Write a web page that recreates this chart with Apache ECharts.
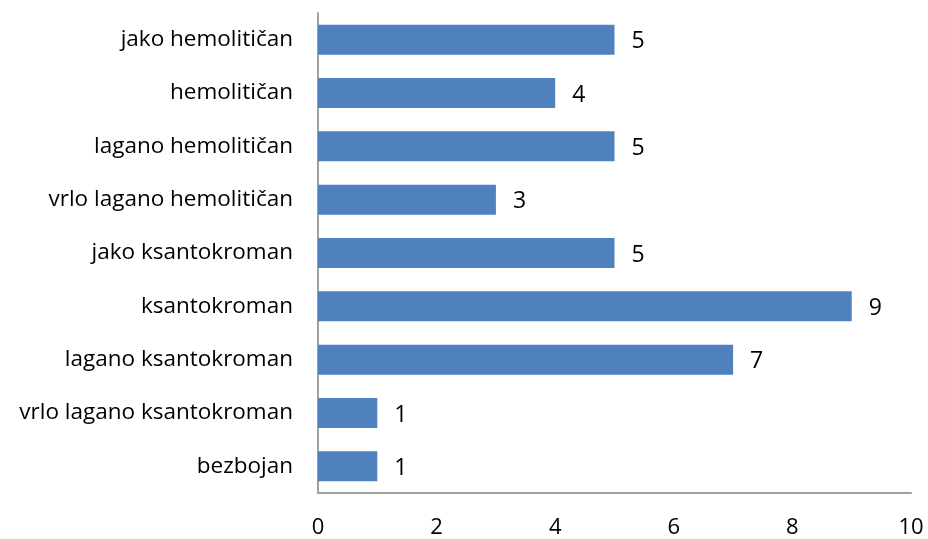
<!DOCTYPE html>
<html>
<head>
<meta charset="utf-8">
<script src="https://cdn.jsdelivr.net/npm/echarts@6/dist/echarts.min.js"></script>
<style>html,body{margin:0;padding:0;background:#fff}#c{width:928px;height:539px}</style>
</head>
<body>
<div id="c"></div>
<script>
var categories = ['bezbojan','vrlo lagano ksantokroman','lagano ksantokroman','ksantokroman','jako ksantokroman','vrlo lagano hemolitičan','lagano hemolitičan','hemolitičan','jako hemolitičan'];
var values = [1,1,7,9,5,3,5,4,5];
var xTicks = [0,2,4,6,8,10];

var font = 'Open Sans';
var chart = echarts.init(document.getElementById('c'));
chart.setOption({
  animation:false,
  grid:{left:318,right:17,top:13,bottom:46,containLabel:false},
  xAxis:{type:'value',min:xTicks[0],max:xTicks[xTicks.length-1],interval:2,
    axisLine:{show:true,lineStyle:{color:'#a0a0a0',width:2}},
    axisTick:{show:false},splitLine:{show:false},
    axisLabel:{color:'#000',fontFamily:font,fontSize:22,margin:24}},
  yAxis:{type:'category',data:categories,
    axisLine:{show:true,lineStyle:{color:'#a0a0a0',width:2}},
    axisTick:{show:false},
    axisLabel:{color:'#000',fontFamily:font,fontSize:22.5,margin:25}},
  series:[{type:'bar',data:values,barWidth:30,
    itemStyle:{color:'#4F81BD'},
    label:{show:true,position:'right',distance:17,color:'#000',fontFamily:font,fontSize:23,offset:[0,2]}}]
});
</script>
</body>
</html>
